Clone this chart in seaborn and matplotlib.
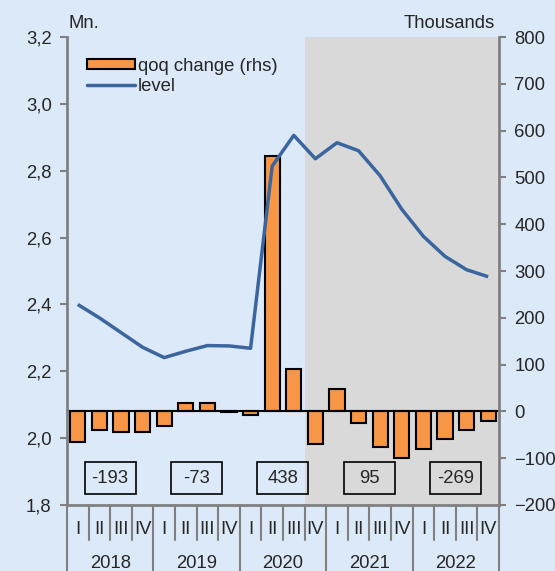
import numpy as np
import pandas as pd
import matplotlib
matplotlib.use("Agg")
import matplotlib.pyplot as plt
import matplotlib.transforms as mtransforms
from matplotlib.patches import Rectangle, Patch
from matplotlib.lines import Line2D
import seaborn as sns

# data
years = ["2018", "2019", "2020", "2021", "2022"]
quarters = ["I", "II", "III", "IV"]
level = [2.400, 2.360, 2.316, 2.272, 2.241, 2.260, 2.277, 2.276, 2.269, 2.814,
         2.906, 2.836, 2.884, 2.860, 2.785, 2.685, 2.604, 2.544, 2.504, 2.483]
qoq_change = [-65, -40, -44, -44, -31, 19, 17, -1, -7, 545,
              90, -70, 48, -24, -75, -100, -81, -60, -40, -21]
annual_change = ["-193", "-73", "438", "95", "-269"]

df = pd.DataFrame({
    "idx": np.arange(len(level)),
    "level": level,
    "qoq": qoq_change,
})

bg = "#dce9f8"
grey_shade = "#d9d9d9"
orange = "#f79646"
blue = "#3b659e"
axis_grey = "#808080"
fs = 13.3

sns.set_style("white")
plt.rcParams["font.family"] = ["Liberation Sans", "DejaVu Sans"]
plt.rcParams["font.size"] = fs

fig = plt.figure(figsize=(5.55, 5.71), dpi=100, facecolor=bg)
ax = fig.add_axes([0.1207, 0.1156, 0.899 - 0.1207, 0.935 - 0.1156])
ax.set_facecolor(bg)
ax2 = ax.twinx()

# shaded area from 2020 Q4
ax.axvspan(10.5, 19.5, color=grey_shade, zorder=0, lw=0)

# bars (rhs) on primary axes
sns.barplot(data=df, x="idx", y="qoq", ax=ax, color=orange, width=0.7,
            edgecolor="black", linewidth=1.5, saturation=1, zorder=2)
ax.axhline(0, color="black", lw=1.5, zorder=3)
ax.set_ylim(-200, 800)
ax.set_xlim(-0.5, 19.5)
ax.set_yticks(np.arange(-200, 801, 100))
ax.set_xlabel("")
ax.set_ylabel("")
ax.set_xticks([])

# line (lhs) on twin axes
sns.lineplot(data=df, x="idx", y="level", ax=ax2, color=blue, lw=2.5,
             solid_capstyle="butt")
ax2.set_ylim(1.8, 3.2)
ax2.set_xlim(-0.5, 19.5)
lticks = np.arange(1.8, 3.21, 0.2)
ax2.set_yticks(lticks)
ax2.set_yticklabels([f"{v:.1f}".replace(".", ",") for v in lticks])
ax2.set_xlabel("")
ax2.set_ylabel("")
ax2.set_xticks([])

# swap sides: bars -> right, line -> left
ax.yaxis.tick_right()
ax.yaxis.set_label_position("right")
ax2.yaxis.tick_left()
ax2.yaxis.set_label_position("left")

for a in (ax, ax2):
    for s in a.spines.values():
        s.set_visible(False)
    a.tick_params(axis="y", length=5, width=1.5, color=axis_grey,
                  labelsize=fs, pad=6)
for side in ("left", "right", "bottom"):
    ax2.spines[side].set_visible(True)
    ax2.spines[side].set_color(axis_grey)
    ax2.spines[side].set_linewidth(2)

# annual change boxes
box_w, box_h = 2.36, 68
for i, txt in enumerate(annual_change):
    xc = 4 * i + 1.5
    ax.add_patch(Rectangle((xc - box_w / 2, -143 - box_h / 2), box_w, box_h,
                           facecolor="none", edgecolor="black", lw=1.2, zorder=4))
    ax.text(xc, -143, txt, ha="center", va="center", fontsize=fs, zorder=5)

# two-level category axis
trans = mtransforms.blended_transform_factory(ax.transData, ax.transAxes)
for k in range(len(level) + 1):
    x = k - 0.5
    y_end = -0.16 if k % 4 == 0 else -0.075
    ax.plot([x, x], [0, y_end], transform=trans, color=axis_grey, lw=1.5,
            clip_on=False)
for k in range(len(level)):
    ax.text(k, -0.053, quarters[k % 4], transform=trans, ha="center",
            va="center", fontsize=fs)
for i, y in enumerate(years):
    ax.text(4 * i + 1.5, -0.125, y, transform=trans, ha="center", va="center",
            fontsize=fs)

# unit labels
fig.text(0.124, 0.958, "Mn.", ha="left", va="center", fontsize=fs)
fig.text(0.891, 0.958, "Thousands", ha="right", va="center", fontsize=fs)

handles = [Patch(facecolor=orange, edgecolor="black", lw=1.5),
           Line2D([], [], color=blue, lw=2.5)]
ax2.legend(handles, ["qoq change (rhs)", "level"], loc="upper left",
           bbox_to_anchor=(0.03, 0.972), frameon=False, fontsize=fs,
           handlelength=2.6, handleheight=0.5, handletextpad=0.15,
           labelspacing=0.2, borderaxespad=0)

fig.savefig("out.png", dpi=100, facecolor=bg)
